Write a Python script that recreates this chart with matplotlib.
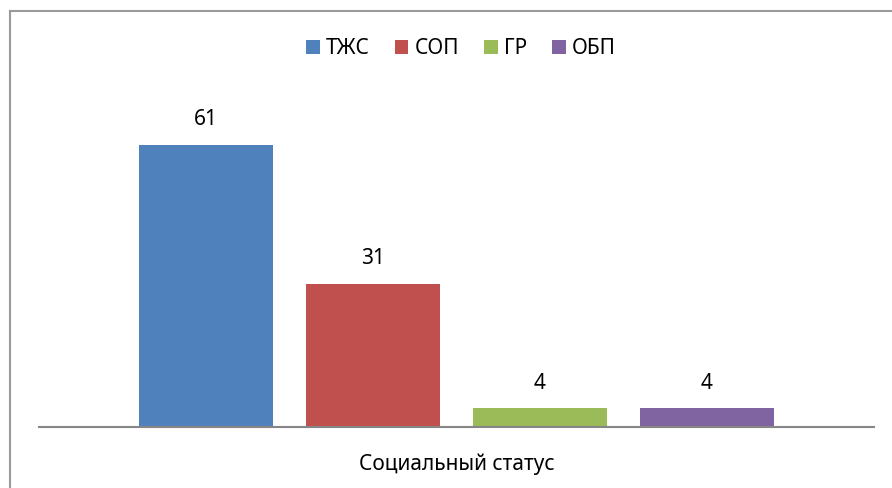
import matplotlib.pyplot as plt
from matplotlib.lines import Line2D

plt.rcParams['font.family'] = ['Noto Sans', 'DejaVu Sans']

series = ['ТЖС', 'СОП', 'ГР', 'ОБП']
values = [61, 31, 4, 4]
colors = ['#4F81BD', '#C0504D', '#9BBB59', '#8064A2']
category = 'Социальный статус'

fig = plt.figure(figsize=(8.92, 4.88), dpi=100)

# outer chart border: only left and top edges are visible in the screenshot
bx, by = 9.5 / 892, 1 - 10.5 / 488
fig.add_artist(Line2D([bx, bx], [0, by], transform=fig.transFigure,
                      color='#9a9a9a', linewidth=1.5))
fig.add_artist(Line2D([bx, 1], [by, by], transform=fig.transFigure,
                      color='#9a9a9a', linewidth=1.5))

ax = fig.add_axes([39 / 892, 1 - 427 / 488, 835 / 892, 324 / 488])

step = 0.2
width = 0.1605
for i, (name, v, c) in enumerate(zip(series, values, colors)):
    x = (i - 1.5) * step
    ax.bar(x, v, width=width, color=c, label=name)
    ax.text(x, v + 3.1, str(v), ha='center', va='bottom', fontsize=15)

ax.set_xlim(-0.5, 0.5)
ax.set_ylim(0, 70)
for s in ['top', 'right', 'left']:
    ax.spines[s].set_visible(False)
ax.spines['bottom'].set_color('#868686')
ax.spines['bottom'].set_linewidth(1.5)
ax.set_yticks([])
ax.set_xticks([0])
ax.set_xticklabels([category], fontsize=15)
ax.tick_params(axis='x', length=0, pad=19)

fig.legend(loc='center', bbox_to_anchor=(461 / 892, 1 - 49 / 488), ncol=4,
           frameon=False, fontsize=15, handlelength=0.65, handleheight=0.65,
           handletextpad=0.3, columnspacing=1.2)

fig.savefig('out.png', dpi=100)
